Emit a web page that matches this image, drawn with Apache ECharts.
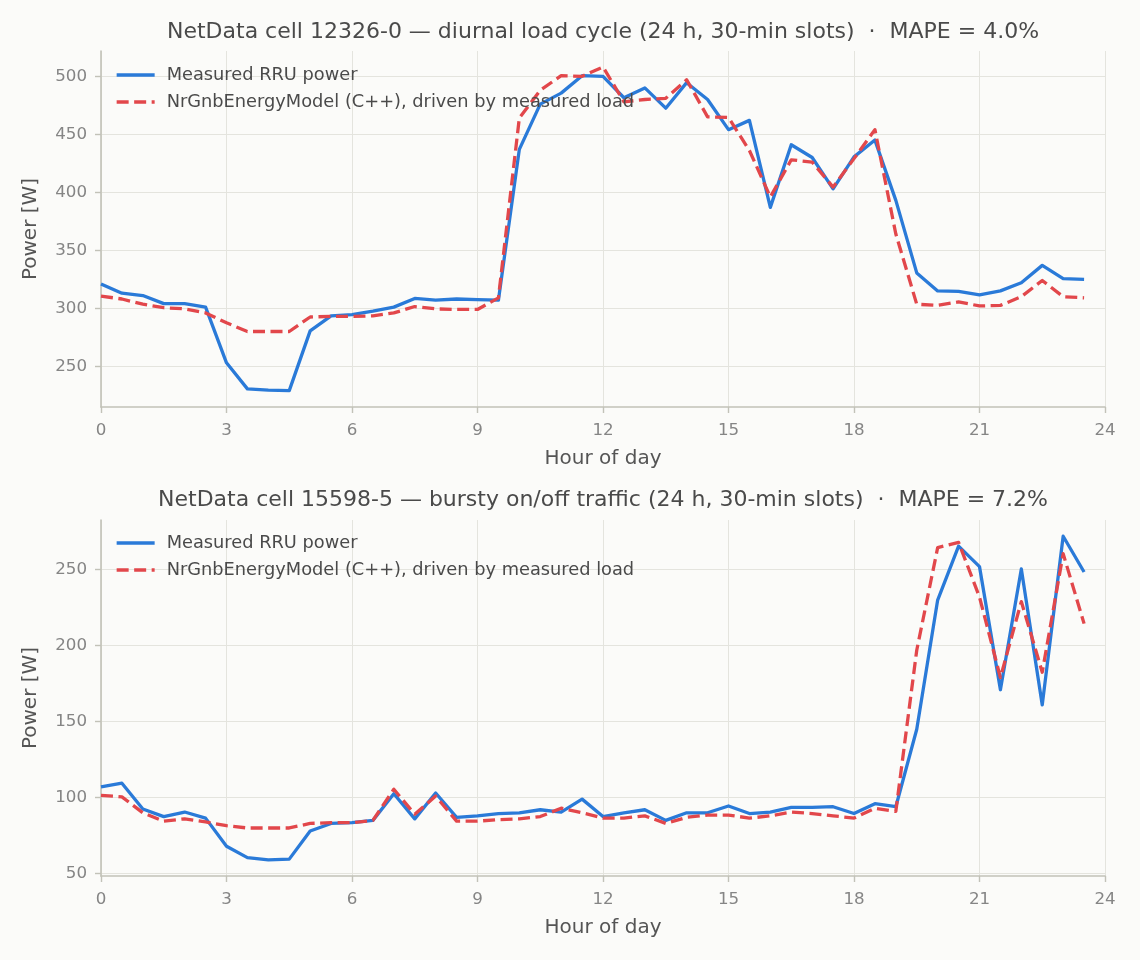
<!DOCTYPE html>
<html>
<head>
<meta charset="utf-8">
<script src="https://cdn.jsdelivr.net/npm/echarts@6/dist/echarts.min.js"></script>
<style>
html,body{margin:0;padding:0;background:#fbfbf9;}
#c{width:1140px;height:960px;}
</style>
</head>
<body>
<div id="c"></div>
<script>
const hours = [0,0.5,1,1.5,2,2.5,3,3.5,4,4.5,5,5.5,6,6.5,7,7.5,8,8.5,9,9.5,10,10.5,11,11.5,12,12.5,13,13.5,14,14.5,15,15.5,16,16.5,17,17.5,18,18.5,19,19.5,20,20.5,21,21.5,22,22.5,23,23.5];
const xTicks = [0,3,6,9,12,15,18,21,24];

const titleTop = "NetData cell 12326-0 — diurnal load cycle (24 h, 30-min slots)  ·  MAPE = 4.0%";
const titleBottom = "NetData cell 15598-5 — bursty on/off traffic (24 h, 30-min slots)  ·  MAPE = 7.2%";
const seriesNames = ["Measured RRU power", "NrGnbEnergyModel (C++), driven by measured load"];

const topMeasured = [321,313,311,304,304,301,253,230.5,229.5,229,280.5,293.5,294.5,297.5,301,308.5,307,308,307.5,307,437,476,485.5,500.5,500,481.5,490,472.5,494.5,480,454,462,387,441,430,403,430.5,445,393,330.5,315,314.5,311.5,315,322,337,325.5,325];
const topModel = [310.5,308,303.5,300.5,299.5,296,287.5,280,280,280,292.5,293,293,293.5,296,301.5,299.5,299,299,309,464,488,500.5,500,508,478,480,481,497,465,464.5,436,396,428,426,404.5,429,454,364,303.5,302.5,305.5,302,302.5,310,324,310,309];
const topYTicks = [250,300,350,400,450,500];

const botMeasured = [107,109.5,92.5,87.5,90.5,86.5,68,60.5,59,59.5,78,83,83.5,85,102.5,86,103,87,88,89.5,90,92,90.5,99,87.5,90,92,85,90,90,94.5,89.5,90.5,93.5,93.5,94,89.5,96,94,145,230,265.5,252,171,250.5,161,272,248.5];
const botModel = [101.5,100.5,90,84.5,86,84,81.5,80,80,80,83,83.5,83.5,85,105.5,89,101,84.5,84.5,85.5,86,87.5,93,90,86.5,86.5,88,83,87,88.5,88.5,86.5,88,90.5,89.5,88,86.5,93,91,197,264.5,268,232,179,229,182.5,260.5,214.5];
const botYTicks = [50,100,150,200,250];

const BLUE = '#2a7ad8';
const RED = '#e2474b';
const SPINE = '#c2c2b8';
const GRID = '#e4e4de';
const FONT = 'DejaVu Sans';
const LW = 3.3;

const pairs = (vals) => hours.map((h, i) => [h, vals[i]]);

function xAxis(gi) {
  return {
    type: 'value', gridIndex: gi, min: 0, max: 24, interval: 3,
    name: 'Hour of day', nameLocation: 'middle', nameGap: 42,
    nameTextStyle: {fontFamily: FONT, fontSize: 20, color: '#555'},
    axisLine: {show: true, lineStyle: {color: SPINE, width: 1.6}},
    axisTick: {show: true, inside: false, length: 6, lineStyle: {color: SPINE, width: 1.4}},
    axisLabel: {fontFamily: FONT, fontSize: 16.7, color: '#858585', margin: 15},
    splitLine: {show: true, lineStyle: {color: GRID, width: 1}}
  };
}
function yAxis(gi, mn, mx, ticks) {
  return {
    type: 'value', gridIndex: gi, min: mn, max: mx,
    name: 'Power [W]', nameLocation: 'middle', nameGap: 60,
    nameTextStyle: {fontFamily: FONT, fontSize: 20, color: '#555'},
    axisLine: {show: true, lineStyle: {color: SPINE, width: 1.6}},
    axisTick: {show: true, inside: false, length: 6, lineStyle: {color: SPINE, width: 1.4}, customValues: ticks},
    axisLabel: {fontFamily: FONT, fontSize: 16.7, color: '#858585', margin: 14, customValues: ticks},
    splitLine: {show: true, lineStyle: {color: GRID, width: 1}}
  };
}
function lineSeries(name, data, gi, color, dashed) {
  return {
    type: 'line', name: name, xAxisIndex: gi, yAxisIndex: gi,
    data: data, showSymbol: false, symbol: 'none', animation: false,
    lineStyle: {color: color, width: LW, type: dashed ? [12, 5.5] : 'solid', join: 'round'},
    itemStyle: {color: color}
  };
}
function legend(top, names) {
  return {
    orient: 'vertical', left: 110, top: top, itemWidth: 38, itemHeight: 14, itemGap: 9,
    data: names.map(n => ({name: n})),
    itemStyle: {opacity: 0},
    lineStyle: {width: LW},
    textStyle: {fontFamily: FONT, fontSize: 17.8, color: '#4a4a4a', padding: [0, 0, 0, 7]}
  };
}

const chart = echarts.init(document.getElementById('c'), null, {renderer: 'canvas'});
chart.setOption({
  backgroundColor: '#fbfbf9',
  animation: false,
  title: [
    {text: titleTop, left: 598, textAlign: 'center', top: 16,
     textStyle: {fontFamily: FONT, fontSize: 22, fontWeight: 'normal', color: '#4a4a4a'}},
    {text: titleBottom, left: 598, textAlign: 'center', top: 484,
     textStyle: {fontFamily: FONT, fontSize: 22, fontWeight: 'normal', color: '#4a4a4a'}}
  ],
  legend: [
    legend(61, [seriesNames[0], seriesNames[1]]),
    legend(529, [seriesNames[0] + ' ', seriesNames[1] + ' '])
  ],
  grid: [
    {left: 101, top: 51, width: 1004, height: 356, containLabel: false},
    {left: 101, top: 520, width: 1004, height: 356, containLabel: false}
  ],
  xAxis: [xAxis(0), xAxis(1)],
  yAxis: [yAxis(0, 214.9, 521.8, topYTicks), yAxis(1, 48.4, 282.7, botYTicks)],
  series: [
    lineSeries(seriesNames[0], pairs(topMeasured), 0, BLUE, false),
    lineSeries(seriesNames[1], pairs(topModel), 0, RED, true),
    lineSeries(seriesNames[0] + ' ', pairs(botMeasured), 1, BLUE, false),
    lineSeries(seriesNames[1] + ' ', pairs(botModel), 1, RED, true)
  ]
});
</script>
</body>
</html>
